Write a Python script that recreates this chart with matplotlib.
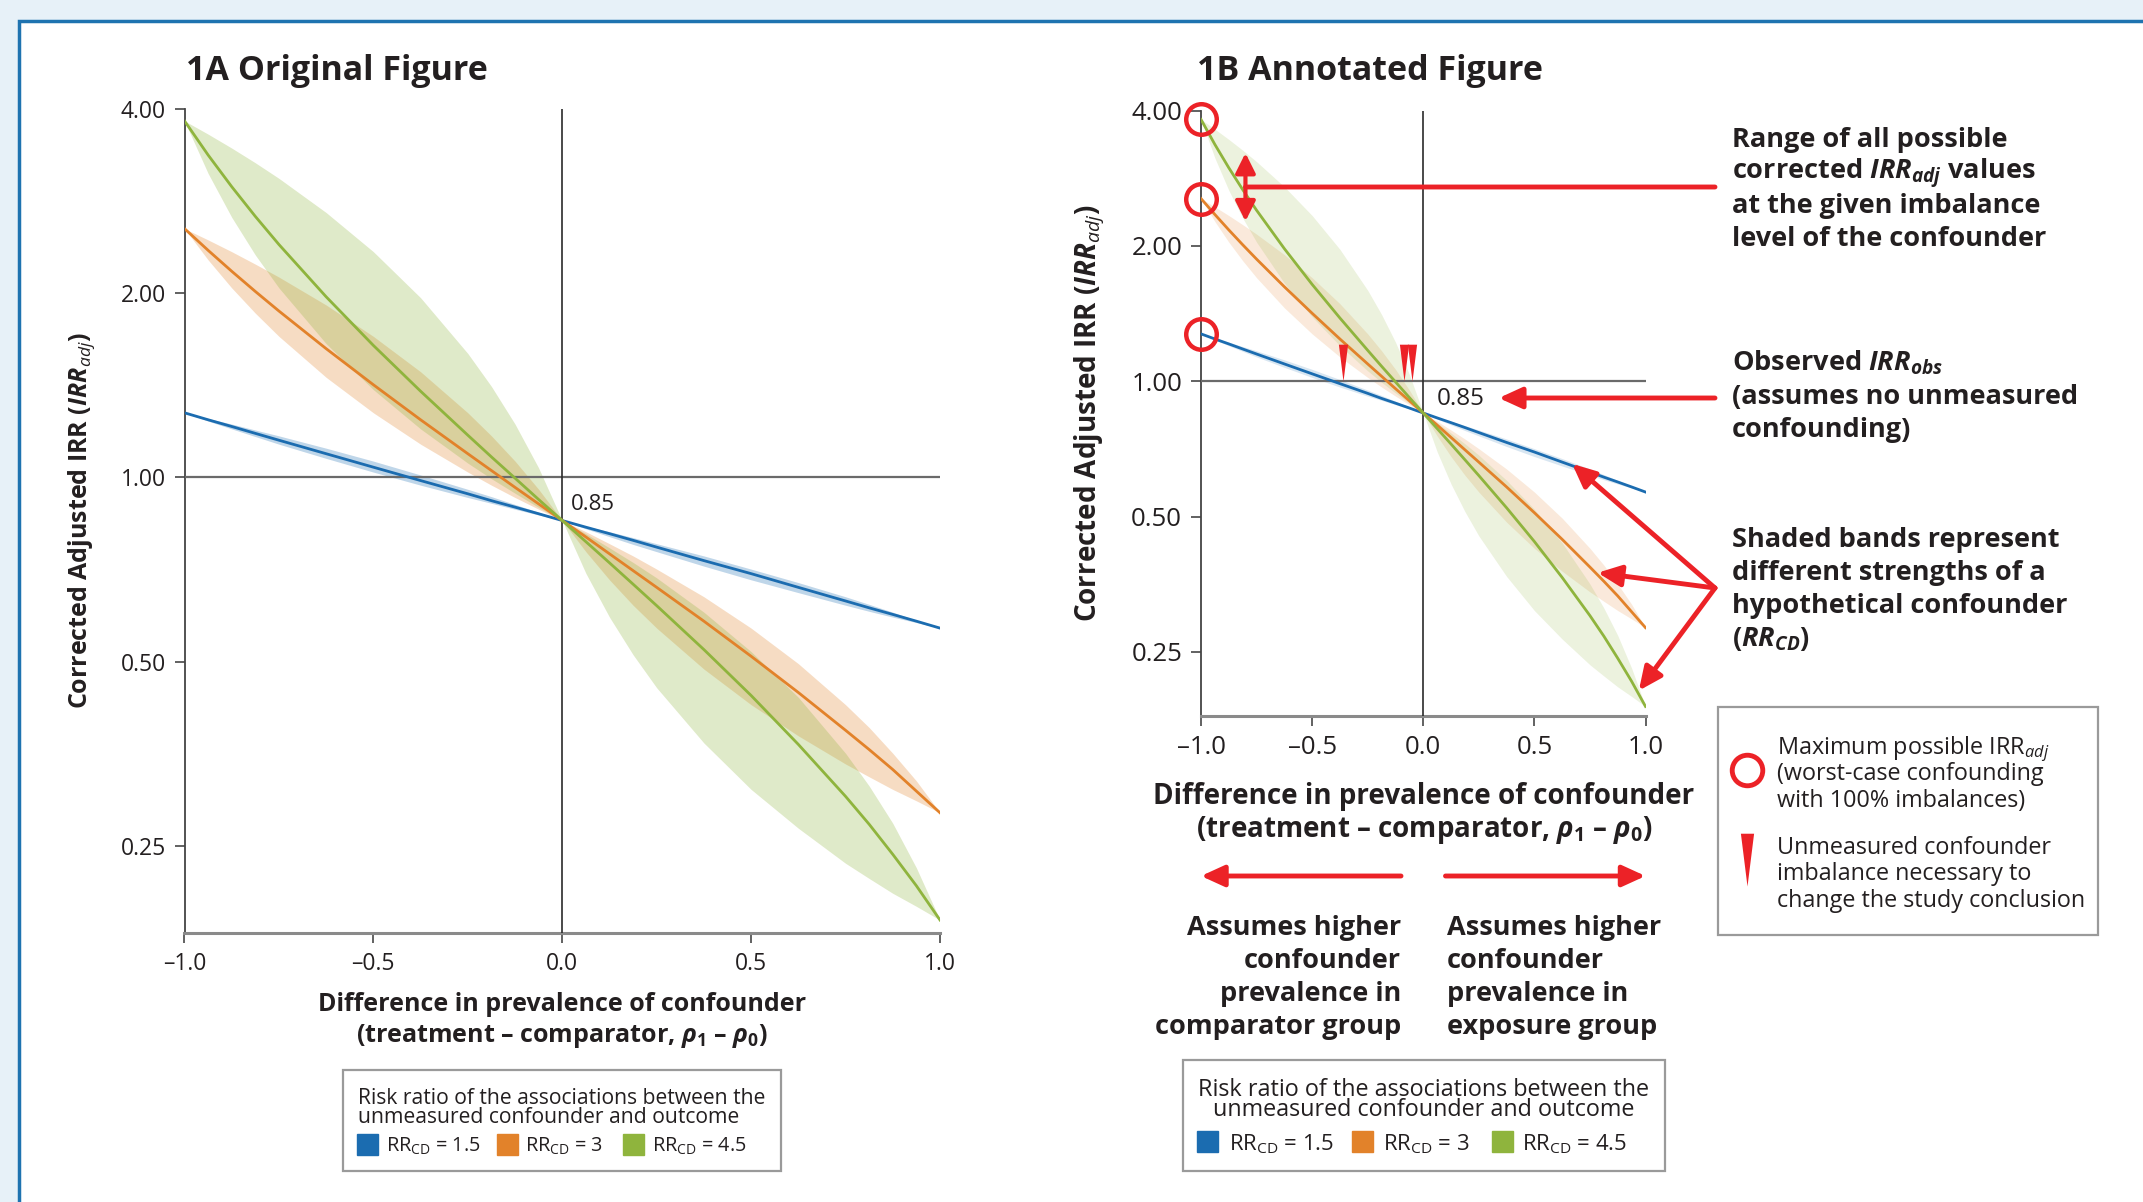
import matplotlib.pyplot as plt
from matplotlib.patches import Rectangle
from matplotlib.lines import Line2D
from matplotlib.path import Path

W, H = 2143, 1202

FONT = 'Open Sans'
plt.rcParams['font.family'] = [FONT, 'DejaVu Sans']
plt.rcParams['mathtext.fontset'] = 'custom'
plt.rcParams['mathtext.rm'] = FONT
plt.rcParams['mathtext.it'] = FONT + ':italic'
plt.rcParams['mathtext.bf'] = FONT + ':bold'
plt.rcParams['mathtext.bfit'] = FONT + ':italic:bold'
plt.rcParams['text.color'] = '#231f20'

# --------------------------
# DATA
# --------------------------
diff = [-1.0, -0.9375, -0.875, -0.8125, -0.75, -0.625, -0.5, -0.375, -0.25,
        -0.1875, -0.125, -0.0625, 0.0, 0.0625, 0.125, 0.1875, 0.25, 0.375,
        0.5, 0.625, 0.75, 0.8125, 0.875, 0.9375, 1.0]

blue_mid = [1.275, 1.242, 1.211, 1.180, 1.150, 1.093, 1.039, 0.988, 0.940,
            0.916, 0.894, 0.872, 0.850, 0.829, 0.809, 0.789, 0.769, 0.731,
            0.696, 0.661, 0.628, 0.612, 0.597, 0.582, 0.567]
blue_lo = [1.275, 1.236, 1.200, 1.166, 1.133, 1.074, 1.020, 0.971, 0.927,
           0.907, 0.887, 0.868, 0.850, 0.824, 0.800, 0.777, 0.756, 0.716,
           0.680, 0.648, 0.618, 0.604, 0.591, 0.579, 0.567]
blue_hi = [1.275, 1.248, 1.222, 1.195, 1.169, 1.116, 1.063, 1.009, 0.956,
           0.930, 0.903, 0.877, 0.850, 0.832, 0.815, 0.797, 0.779, 0.744,
           0.708, 0.673, 0.638, 0.620, 0.602, 0.584, 0.567]

orange_mid = [2.550, 2.350, 2.172, 2.013, 1.870, 1.623, 1.417, 1.242, 1.093,
              1.026, 0.963, 0.905, 0.850, 0.799, 0.750, 0.704, 0.661, 0.582,
              0.510, 0.445, 0.386, 0.359, 0.333, 0.307, 0.283]
orange_lo = [2.550, 2.267, 2.040, 1.855, 1.700, 1.457, 1.275, 1.133, 1.020,
             0.971, 0.927, 0.887, 0.850, 0.756, 0.680, 0.618, 0.567, 0.486,
             0.425, 0.378, 0.340, 0.324, 0.309, 0.296, 0.283]
orange_hi = [2.550, 2.444, 2.338, 2.231, 2.125, 1.913, 1.700, 1.488, 1.275,
             1.169, 1.063, 0.956, 0.850, 0.815, 0.779, 0.744, 0.708, 0.638,
             0.567, 0.496, 0.425, 0.390, 0.354, 0.319, 0.283]

green_mid = [3.825, 3.364, 2.986, 2.670, 2.402, 1.973, 1.643, 1.383, 1.172,
             1.080, 0.997, 0.920, 0.850, 0.785, 0.725, 0.669, 0.617, 0.523,
             0.440, 0.366, 0.301, 0.271, 0.242, 0.215, 0.189]
green_lo = [3.825, 3.139, 2.661, 2.309, 2.040, 1.654, 1.391, 1.200, 1.055,
            0.995, 0.942, 0.893, 0.850, 0.697, 0.591, 0.513, 0.453, 0.368,
            0.309, 0.267, 0.234, 0.221, 0.209, 0.199, 0.189]
green_hi = [3.825, 3.639, 3.453, 3.267, 3.081, 2.709, 2.338, 1.966, 1.594,
            1.408, 1.222, 1.036, 0.850, 0.809, 0.767, 0.726, 0.685, 0.602,
            0.519, 0.437, 0.354, 0.313, 0.272, 0.230, 0.189]

rr_labels = ["1.5", "3", "4.5"]
colors = ["#1b6cb0", "#e2822a", "#8fb43d"]
irr_obs = 0.85
flip_diff = [-0.36, -0.085, -0.05]   # imbalance where each curve crosses 1.00

y_ticks = [0.25, 0.5, 1.0, 2.0, 4.0]
y_ticklabels = ["0.25", "0.50", "1.00", "2.00", "4.00"]
x_ticks = [-1.0, -0.5, 0.0, 0.5, 1.0]
x_ticklabels = ["\u20131.0", "\u20130.5", "0.0", "0.5", "1.0"]

mids = [blue_mid, orange_mid, green_mid]
lows = [blue_lo, orange_lo, green_lo]
highs = [blue_hi, orange_hi, green_hi]

RED = "#ec2227"
GREY = "#9a9a9a"
DASH = "\u2013"


def fx(x):
    return x / W


def fy(y):
    return 1 - y / H


def line(x, yc, s, size, **kw):
    # place one text line by its visual centre (pixel coords)
    base = yc + 0.36 * size * 100 / 72
    fig.text(fx(x), fy(base), s, fontsize=size, va='baseline', **kw)


def draw_panel(ax, alpha, tick_size):
    for lo, hi, c in zip(lows, highs, colors):
        ax.fill_between(diff, lo, hi, color=c, alpha=alpha, lw=0, zorder=2)
    ax.axhline(1.0, color='#6a6a6a', lw=1.6, zorder=3)
    ax.axvline(0.0, color='#2b2b2b', lw=1.2, zorder=3)
    for mid, c in zip(mids, colors):
        ax.plot(diff, mid, color=c, lw=2, zorder=4)
    ax.set_yscale('log')
    ax.set_xlim(-1, 1)
    ax.set_ylim(0.18, 4.0)
    ax.set_yticks(y_ticks, y_ticklabels)
    ax.set_xticks(x_ticks, x_ticklabels)
    ax.minorticks_off()
    ax.set_facecolor('none')
    for s in ['top', 'right']:
        ax.spines[s].set_visible(False)
    ax.spines['left'].set_color('#444444')
    ax.spines['left'].set_linewidth(1.3)
    ax.spines['bottom'].set_color('#8a8a8a')
    ax.spines['bottom'].set_linewidth(2.2)
    ax.tick_params(direction='out', length=7.5, width=1.3, color='#555555',
                   labelsize=tick_size, pad=6, labelcolor='#231f20')


def legend_box(box, title_lines, title_x, title_ys, ha, sq_x, lab_x, row_y, tsize, lsize):
    x0, y0, x1, y1 = box
    fig.patches.append(Rectangle((fx(x0), fy(y1)), (x1 - x0) / W, (y1 - y0) / H,
                                 transform=fig.transFigure, fill=False,
                                 edgecolor=GREY, lw=1.6))
    for t, ty in zip(title_lines, title_ys):
        line(title_x, ty, t, tsize, ha=ha)
    for sx, lx, c, lab in zip(sq_x, lab_x, colors, rr_labels):
        fig.patches.append(Rectangle((fx(sx), fy(row_y + 10)), 21 / W, 21 / H,
                                     transform=fig.transFigure, color=c))
        line(lx, row_y, r"RR$_\mathregular{CD}$ = " + lab, lsize)


fig = plt.figure(figsize=(W / 100, H / 100), dpi=100, facecolor='#e7f1f8')
fig.patches.append(Rectangle((fx(19), fy(1300)), 1.2, (1300 - 21) / H,
                             transform=fig.transFigure, facecolor='white',
                             edgecolor='#1e73b0', lw=2.5, zorder=-5))

# --------------------------
# PANEL 1A
# --------------------------
axA = fig.add_axes([184.5 / W, 1 - 933 / H, (940 - 184.5) / W, (933 - 109) / H])
draw_panel(axA, 0.28, 16.5)
axA.annotate(f"{irr_obs:.2f}", xy=(0, irr_obs), xytext=(9, 16),
             textcoords='offset pixels', fontsize=16, va='center')

line(186, 68, "1A Original Figure", 24.5, fontweight='bold')
fig.text(fx(82), fy(521), r"Corrected Adjusted IRR ($\mathbfit{IRR}_{\mathit{adj}}$)",
         rotation=90, ha='center', va='center', fontsize=18, fontweight='bold')
line(562, 1002, "Difference in prevalence of confounder", 18, ha='center', fontweight='bold')
line(562, 1033, "(treatment " + DASH + r" comparator, $\mathbfit{\rho}_{\mathbf{1}}$ " + DASH
     + r" $\mathbfit{\rho}_{\mathbf{0}}$)", 18, ha='center', fontweight='bold')

legend_box((343, 1070, 781, 1171),
           ["Risk ratio of the associations between the",
            "unmeasured confounder and outcome"],
           358, [1096, 1115], 'left',
           [357, 497, 623], [386, 525, 652], 1145, 15.2, 14.3)

# --------------------------
# PANEL 1B
# --------------------------
axB = fig.add_axes([1201 / W, 1 - 716 / H, (1645.5 - 1201) / W, (716 - 110.7) / H])
draw_panel(axB, 0.17, 18.5)
axB.annotate(f"{irr_obs:.2f}", xy=(0, irr_obs), xytext=(14, 14),
             textcoords='offset pixels', fontsize=17.5, va='center')

line(1197, 68, "1B Annotated Figure", 24.5, fontweight='bold')
fig.text(fx(1089), fy(413), r"Corrected Adjusted IRR ($\mathbfit{IRR}_{\mathit{adj}}$)",
         rotation=90, ha='center', va='center', fontsize=20, fontweight='bold')
line(1424, 794, "Difference in prevalence of confounder", 20, ha='center', fontweight='bold')
line(1424, 827, "(treatment " + DASH + r" comparator, $\mathbfit{\rho}_{\mathbf{1}}$ " + DASH
     + r" $\mathbfit{\rho}_{\mathbf{0}}$)", 20, ha='center', fontweight='bold')

# worst-case circles and tipping-point triangles
axB.plot([diff[0]] * 3, [m[0] for m in mids], ls='none', marker='o', ms=22,
         mfc='none', mec=RED, mew=3.2, clip_on=False, zorder=6)
tri = Path([(-0.25, 2), (0.25, 2), (0, 0), (-0.25, 2)],
           [Path.MOVETO, Path.LINETO, Path.LINETO, Path.CLOSEPOLY])
axB.plot(flip_diff, [1.0] * 3, ls='none', marker=tri, ms=53, color=RED,
         mew=0, clip_on=False, zorder=6)

arrow = dict(arrowstyle='-|>,head_length=0.7,head_width=0.32', color=RED, lw=3.5,
             mutation_scale=20, shrinkA=0, shrinkB=0)
both = dict(arrowstyle='<|-|>,head_length=0.6,head_width=0.3', color=RED, lw=3,
            mutation_scale=20, shrinkA=0, shrinkB=0)
plain = dict(arrowstyle='-', color=RED, lw=3.5, shrinkA=0, shrinkB=0)

axB.annotate('', xy=(-0.8, 3.22), xytext=(-0.8, 2.27), arrowprops=both, zorder=7)
axB.annotate('', xy=(-0.8, fy(187)), xycoords=('data', 'figure fraction'),
             xytext=(fx(1715), fy(187)), textcoords='figure fraction',
             arrowprops=plain, zorder=7)
axB.annotate('', xy=(0.34, fy(398)), xycoords=('data', 'figure fraction'),
             xytext=(fx(1715), fy(398)), textcoords='figure fraction',
             arrowprops=arrow, zorder=7)
for tx, ty in [(0.67, 0.655), (0.785, 0.375), (0.97, 0.205)]:
    axB.annotate('', xy=(tx, ty), xytext=(fx(1715), fy(588)),
                 textcoords='figure fraction', arrowprops=arrow, zorder=7)

# direction arrows under the x axis
axB.annotate('', xy=(-1.0, fy(876)), xycoords=('data', 'figure fraction'),
             xytext=(-0.10, fy(876)), textcoords=('data', 'figure fraction'),
             arrowprops=arrow, annotation_clip=False)
axB.annotate('', xy=(1.0, fy(876)), xycoords=('data', 'figure fraction'),
             xytext=(0.10, fy(876)), textcoords=('data', 'figure fraction'),
             arrowprops=arrow, annotation_clip=False)

left_txt = ["Assumes higher", "confounder", "prevalence in", "comparator group"]
right_txt = ["Assumes higher", "confounder", "prevalence in", "exposure group"]
for i, (lt, rt) in enumerate(zip(left_txt, right_txt)):
    yc = 925 + 33 * i
    line(1401, yc, lt, 19.5, ha='right', fontweight='bold')
    line(1447, yc, rt, 19.5, ha='left', fontweight='bold')

legend_box((1183, 1060, 1665, 1171),
           ["Risk ratio of the associations between the",
            "unmeasured confounder and outcome"],
           1424, [1088, 1108], 'center',
           [1197, 1352, 1492], [1229, 1383, 1522], 1142, 16.8, 15.9)

# callout text on the right
callouts = [
    (137, ["Range of all possible",
           r"corrected $\mathbfit{IRR}_{\mathbfit{adj}}$ values",
           "at the given imbalance",
           "level of the confounder"]),
    (361, [r"Observed $\mathbfit{IRR}_{\mathbfit{obs}}$",
           "(assumes no unmeasured",
           "confounding)"]),
    (537, ["Shaded bands represent",
           "different strengths of a",
           "hypothetical confounder",
           r"($\mathbfit{RR}_{\mathbfit{CD}}$)"]),
]
for y_first, lines_ in callouts:
    for i, t in enumerate(lines_):
        line(1732, y_first + 33 * i, t, 19.5, fontweight='bold')

# key box
fig.patches.append(Rectangle((fx(1718), fy(935)), (2098 - 1718) / W, (935 - 707) / H,
                             transform=fig.transFigure, fill=False,
                             edgecolor=GREY, lw=1.6))
fig.add_artist(Line2D([fx(1747)], [fy(770)], marker='o', ms=22, mfc='none',
                      mec=RED, mew=3.5, transform=fig.transFigure))
fig.add_artist(Line2D([fx(1747)], [fy(886)], marker=tri, ms=76, color=RED,
                      mew=0, transform=fig.transFigure))
key_lines = [(746, r"Maximum possible IRR$_{\mathit{adj}}$"),
             (772, "(worst-case confounding"),
             (799, "with 100% imbalances)"),
             (846, "Unmeasured confounder"),
             (872, "imbalance necessary to"),
             (899, "change the study conclusion")]
for yc, t in key_lines:
    line(1777, yc, t, 16.8)

fig.savefig("out.png", dpi=100, facecolor=fig.get_facecolor())
